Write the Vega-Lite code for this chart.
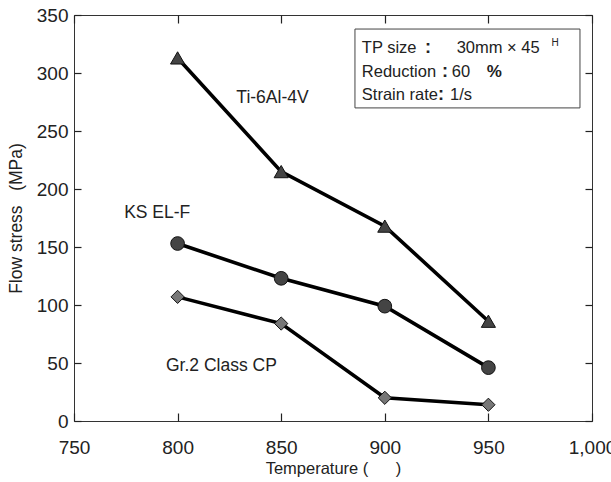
{
  "$schema": "https://vega.github.io/schema/vega-lite/v6.json",
  "autosize": "none",
  "width": 518,
  "height": 406,
  "padding": {"left": 74, "top": 15, "right": 19, "bottom": 61},
  "background": "white",
  "config": {
    "view": {"stroke": "#333", "strokeWidth": 1},
    "font": "Liberation Sans",
    "axis": {"grid": false, "domain": false, "labelFont": "Liberation Sans", "titleFont": "Liberation Sans", "labelColor": "#222", "titleColor": "#222", "titleFontWeight": "normal"}
  },
  "datasets": {
    "pts": [
      {"series": "Ti-6Al-4V", "T": 800, "stress": 313},
      {"series": "Ti-6Al-4V", "T": 850, "stress": 215},
      {"series": "Ti-6Al-4V", "T": 900, "stress": 168},
      {"series": "Ti-6Al-4V", "T": 950, "stress": 86},
      {"series": "KS EL-F", "T": 800, "stress": 153},
      {"series": "KS EL-F", "T": 850, "stress": 123},
      {"series": "KS EL-F", "T": 900, "stress": 99},
      {"series": "KS EL-F", "T": 950, "stress": 46},
      {"series": "Gr.2 Class CP", "T": 800, "stress": 107},
      {"series": "Gr.2 Class CP", "T": 850, "stress": 84},
      {"series": "Gr.2 Class CP", "T": 900, "stress": 20},
      {"series": "Gr.2 Class CP", "T": 950, "stress": 14}
    ],
    "labelsCenter": [
      {"label": "Ti-6Al-4V", "T": 845.8, "stress": 278.2}
    ],
    "labelsLeft": [
      {"label": "KS EL-F", "T": 774.2, "stress": 179.2},
      {"label": "Gr.2 Class CP", "T": 794.4, "stress": 47.2}
    ],
    "box": [{"x1": 885.6, "x2": 994.2, "y1": 269.9, "y2": 337.9}],
    "boxNormal": [
      {"t": "TP size", "T": 888.9, "stress": 321.3},
      {"t": "30mm × 45", "T": 934.7, "stress": 321.3},
      {"t": "Reduction", "T": 888.9, "stress": 301.2},
      {"t": "60", "T": 932.3, "stress": 301.2},
      {"t": "Strain rate", "T": 888.9, "stress": 281.1},
      {"t": "1/s", "T": 931.5, "stress": 281.1}
    ],
    "boxColon": [
      {"t": ":", "T": 920.8, "stress": 321.3},
      {"t": ":", "T": 929.1, "stress": 301.2},
      {"t": ":", "T": 927.1, "stress": 281.1}
    ],
    "boxBold": [
      {"t": "%", "T": 949.2, "stress": 301.2}
    ],
    "boxSup": [
      {"t": "H", "T": 980.5, "stress": 325.8}
    ]
  },
  "layer": [
    {
      "data": {"name": "pts"},
      "mark": {"type": "line", "color": "black", "strokeWidth": 3.6},
      "encoding": {
        "x": {"field": "T", "type": "quantitative", "scale": {"domain": [750, 1000], "nice": false},
              "axis": {"title": "Temperature (\u00a0\u00a0\u00a0\u00a0\u00a0\u00a0)", "tickCount": 5, "format": ",.0f", "offset": -8, "tickSize": 8, "tickColor": "#222", "tickWidth": 1.2, "labelPadding": 17, "labelFontSize": 19, "titleFontSize": 16.5, "titlePadding": 3, "labelFlush": false}},
        "y": {"field": "stress", "type": "quantitative", "scale": {"domain": [0, 350], "nice": false},
              "axis": {"title": "Flow stress\u00a0\u00a0\u00a0(MPa)", "tickCount": 7, "format": "d", "offset": -7, "tickSize": 7, "tickColor": "#222", "tickWidth": 1.2, "labelPadding": 6, "labelFontSize": 19, "titleFontSize": 17.5, "titlePadding": 11}},
        "detail": {"field": "series"}
      }
    },
    {
      "data": {"name": "pts"},
      "mark": {"type": "point", "filled": true, "stroke": "#111", "strokeWidth": 1, "opacity": 1},
      "encoding": {
        "x": {"field": "T", "type": "quantitative", "axis": null},
        "y": {"field": "stress", "type": "quantitative", "axis": null},
        "shape": {"field": "series", "type": "nominal", "legend": null,
                  "scale": {"domain": ["Ti-6Al-4V", "KS EL-F", "Gr.2 Class CP"], "range": ["triangle-up", "circle", "diamond"]}},
        "fill": {"field": "series", "type": "nominal", "legend": null,
                 "scale": {"domain": ["Ti-6Al-4V", "KS EL-F", "Gr.2 Class CP"], "range": ["#444444", "#444444", "#777777"]}},
        "size": {"field": "series", "type": "nominal", "legend": null,
                 "scale": {"domain": ["Ti-6Al-4V", "KS EL-F", "Gr.2 Class CP"], "range": [200, 175, 165]}}
      }
    },
    {
      "data": {"name": "labelsCenter"},
      "mark": {"type": "text", "fontSize": 17.5, "color": "#222", "baseline": "middle", "align": "center"},
      "encoding": {
        "x": {"field": "T", "type": "quantitative", "axis": null},
        "y": {"field": "stress", "type": "quantitative", "axis": null},
        "text": {"field": "label"}
      }
    },
    {
      "data": {"name": "labelsLeft"},
      "mark": {"type": "text", "fontSize": 17.5, "color": "#222", "baseline": "middle", "align": "left"},
      "encoding": {
        "x": {"field": "T", "type": "quantitative", "axis": null},
        "y": {"field": "stress", "type": "quantitative", "axis": null},
        "text": {"field": "label"}
      }
    },
    {
      "data": {"name": "box"},
      "mark": {"type": "rect", "fill": "white", "stroke": "#444", "strokeWidth": 1},
      "encoding": {
        "x": {"field": "x1", "type": "quantitative", "axis": null},
        "x2": {"field": "x2"},
        "y": {"field": "y1", "type": "quantitative", "axis": null},
        "y2": {"field": "y2"}
      }
    },
    {
      "data": {"name": "boxNormal"},
      "mark": {"type": "text", "color": "#222", "baseline": "middle", "align": "left", "fontSize": 16.5},
      "encoding": {
        "x": {"field": "T", "type": "quantitative", "axis": null},
        "y": {"field": "stress", "type": "quantitative", "axis": null},
        "text": {"field": "t"}
      }
    },
    {
      "data": {"name": "boxColon"},
      "mark": {"type": "text", "color": "#222", "baseline": "middle", "align": "center", "fontSize": 18, "fontWeight": "bold"},
      "encoding": {
        "x": {"field": "T", "type": "quantitative", "axis": null},
        "y": {"field": "stress", "type": "quantitative", "axis": null},
        "text": {"field": "t"}
      }
    },
    {
      "data": {"name": "boxBold"},
      "mark": {"type": "text", "color": "#222", "baseline": "middle", "align": "left", "fontSize": 17, "fontWeight": "bold"},
      "encoding": {
        "x": {"field": "T", "type": "quantitative", "axis": null},
        "y": {"field": "stress", "type": "quantitative", "axis": null},
        "text": {"field": "t"}
      }
    },
    {
      "data": {"name": "boxSup"},
      "mark": {"type": "text", "color": "#222", "baseline": "middle", "align": "left", "fontSize": 10},
      "encoding": {
        "x": {"field": "T", "type": "quantitative", "axis": null},
        "y": {"field": "stress", "type": "quantitative", "axis": null},
        "text": {"field": "t"}
      }
    },
    {
      "data": {"name": "pts"},
      "mark": {"type": "point", "opacity": 0},
      "encoding": {
        "x": {"field": "T", "type": "quantitative", "scale": {"domain": [750, 1000], "nice": false},
              "axis": {"orient": "top", "title": null, "labels": false, "tickCount": 5, "offset": -8, "tickSize": 8, "tickColor": "#222", "tickWidth": 1.2}},
        "y": {"field": "stress", "type": "quantitative", "scale": {"domain": [0, 350], "nice": false},
              "axis": {"orient": "right", "title": null, "labels": false, "tickCount": 7, "offset": -7, "tickSize": 7, "tickColor": "#222", "tickWidth": 1.2}}
      }
    }
  ],
  "resolve": {"axis": {"x": "independent", "y": "independent"}}
}
